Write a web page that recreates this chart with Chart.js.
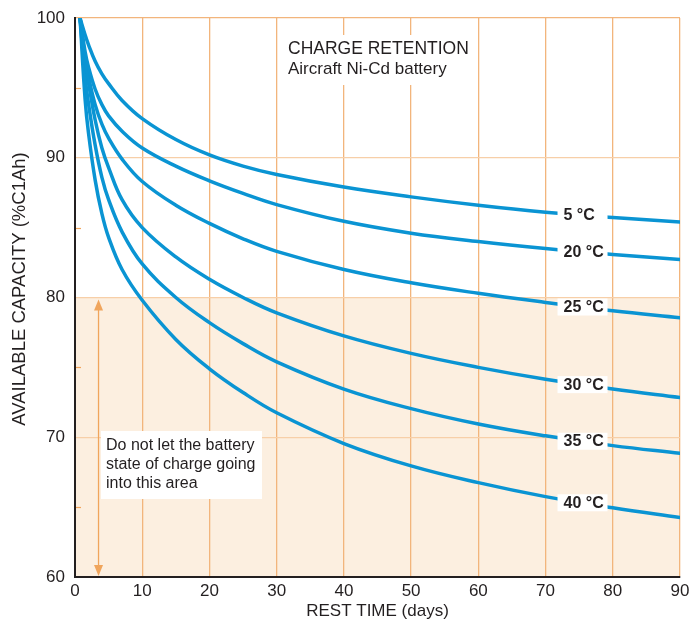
<!DOCTYPE html>
<html>
<head>
<meta charset="utf-8">
<style>
html,body{margin:0;padding:0;background:#fff;}
#wrap{width:691px;height:622px;position:relative;}
</style>
<script src="https://cdn.jsdelivr.net/npm/chart.js@4.4.1/dist/chart.umd.min.js"></script>
</head>
<body>
<div id="wrap"><canvas id="c" width="691" height="622"></canvas></div>
<script>
// ---- data ----
const days   = [0.75, 1.5, 2, 3, 4, 5, 7, 10, 15, 20, 25, 30, 40, 50, 60, 70, 80, 90];
const cap5   = [100, 98.8, 98.1, 96.9, 96.0, 95.3, 94.1, 92.8, 91.3, 90.2, 89.4, 88.8, 87.9, 87.2, 86.6, 86.1, 85.72, 85.4];
const cap20  = [100, 97.6, 96.5, 94.9, 93.8, 93.0, 91.9, 90.7, 89.4, 88.35, 87.45, 86.65, 85.45, 84.6, 84.0, 83.5, 83.08, 82.72];
const cap25  = [100, 97.1, 95.8, 93.8, 92.4, 91.4, 89.9, 88.3, 86.6, 85.3, 84.2, 83.3, 82.0, 81.05, 80.3, 79.65, 79.05, 78.55];
const cap30  = [100, 97.0, 95.4, 92.7, 90.7, 89.3, 87.0, 85.0, 82.9, 81.3, 80.0, 78.9, 77.25, 76.0, 75.0, 74.15, 73.45, 72.85];
const cap35  = [100, 95.8, 93.9, 90.9, 88.6, 87.0, 84.7, 82.4, 80.0, 78.2, 76.7, 75.4, 73.45, 72.05, 70.95, 70.1, 69.4, 68.85];
const cap40  = [100, 94.2, 91.8, 88.4, 86.0, 84.3, 82.0, 79.8, 77.0, 74.9, 73.2, 71.75, 69.55, 67.95, 66.75, 65.75, 64.95, 64.25];
const seriesLabels = ['5 °C', '20 °C', '25 °C', '30 °C', '35 °C', '40 °C'];
const seriesValues = [cap5, cap20, cap25, cap30, cap35, cap40];
const labelDay = 75.5;
const xTicks = [0, 10, 20, 30, 40, 50, 60, 70, 80, 90];
const yTicks = [60, 70, 80, 90, 100];
const yMinor = [65, 75, 85, 95];
const limitValue = 80;
const titleLines = ['CHARGE RETENTION', 'Aircraft Ni-Cd battery'];
const noteLines = ['Do not let the battery', 'state of charge going', 'into this area'];
const xTitle = 'REST TIME (days)';
const yTitle = 'AVAILABLE CAPACITY (%C1Ah)';

const FONT = "'Liberation Sans', Arial, Helvetica, sans-serif";
const TXT = '#231f20';
const BLUE = '#0a94d3';
const GRID_V = '#f2b57c';
const GRID_H = '#f7cfa8';
const SHADE = '#fcefe0';
const ARROW = '#f0a55c';

function interp(xs, ys, x) {
  for (let i = 0; i < xs.length - 1; i++) {
    if (x >= xs[i] && x <= xs[i + 1]) {
      const t = (x - xs[i]) / (xs[i + 1] - xs[i]);
      return ys[i] + t * (ys[i + 1] - ys[i]);
    }
  }
  return ys[ys.length - 1];
}

const datasets = seriesValues.map((vals, i) => ({
  label: seriesLabels[i],
  data: days.map((d, j) => ({x: d, y: vals[j]})),
  borderColor: BLUE,
  borderWidth: 3.5,
  pointRadius: 0,
  fill: false,
  tension: 0.4,
  borderCapStyle: 'round',
  borderJoinStyle: 'round'
}));

const decor = {
  id: 'decor',
  beforeDraw(chart) {
    const {ctx, scales: {x, y}} = chart;
    ctx.save();
    ctx.fillStyle = '#fff';
    ctx.fillRect(0, 0, chart.width, chart.height);
    ctx.fillStyle = SHADE;
    const l = x.getPixelForValue(0), r = x.getPixelForValue(90);
    const t = y.getPixelForValue(limitValue), b = y.getPixelForValue(60);
    ctx.fillRect(l, t, r - l, b - t);
    // y axis title
    ctx.fillStyle = TXT;
    ctx.font = '18.5px ' + FONT;
    ctx.textAlign = 'center';
    ctx.textBaseline = 'middle';
    ctx.translate(20, 289);
    ctx.rotate(-Math.PI / 2);
    ctx.fillText(yTitle, 0, 0);
    ctx.restore();
  },
  beforeDatasetsDraw(chart) {
    const {ctx, scales: {x, y}} = chart;
    ctx.save();
    // minor ticks on y axis
    ctx.strokeStyle = ARROW;
    ctx.lineWidth = 1.2;
    yMinor.forEach(v => {
      const py = Math.round(y.getPixelForValue(v)) + 0.5;
      ctx.beginPath();
      ctx.moveTo(x.getPixelForValue(0) + 1, py);
      ctx.lineTo(x.getPixelForValue(0) + 6, py);
      ctx.stroke();
    });
    // arrow
    const ax = x.getPixelForValue(3.5);
    const at = y.getPixelForValue(limitValue) + 2;
    const ab = y.getPixelForValue(60) - 1;
    ctx.strokeStyle = ARROW;
    ctx.fillStyle = ARROW;
    ctx.lineWidth = 1.3;
    ctx.beginPath();
    ctx.moveTo(ax, at + 8);
    ctx.lineTo(ax, ab - 8);
    ctx.stroke();
    ctx.beginPath();
    ctx.moveTo(ax, at); ctx.lineTo(ax - 4.5, at + 11); ctx.lineTo(ax + 4.5, at + 11); ctx.closePath(); ctx.fill();
    ctx.beginPath();
    ctx.moveTo(ax, ab); ctx.lineTo(ax - 4.5, ab - 11); ctx.lineTo(ax + 4.5, ab - 11); ctx.closePath(); ctx.fill();
    // note box
    ctx.fillStyle = '#fff';
    ctx.fillRect(101, 431, 161, 68);
    ctx.fillStyle = TXT;
    ctx.font = '16px ' + FONT;
    ctx.textBaseline = 'middle';
    ctx.textAlign = 'left';
    noteLines.forEach((s, i) => ctx.fillText(s, 106, 446 + i * 19));
    // title box
    ctx.fillStyle = '#fff';
    ctx.fillRect(283, 35, 190, 50);
    ctx.fillStyle = TXT;
    ctx.font = '17.5px ' + FONT;
    ctx.fillText(titleLines[0], 288, 49);
    ctx.font = '17px ' + FONT;
    ctx.fillText(titleLines[1], 288, 69);
    ctx.restore();
  },
  afterDatasetsDraw(chart) {
    const {ctx, scales: {x, y}} = chart;
    ctx.save();
    ctx.font = 'bold 16px ' + FONT;
    ctx.textBaseline = 'middle';
    ctx.textAlign = 'left';
    seriesValues.forEach((vals, i) => {
      const cx = x.getPixelForValue(labelDay);
      const cy = y.getPixelForValue(interp(days, vals, labelDay));
      ctx.fillStyle = '#fff';
      ctx.fillRect(cx - 25, cy - 8.5, 50, 17);
      ctx.fillStyle = TXT;
      ctx.fillText(seriesLabels[i], cx - 19, cy + 0.5);
    });
    ctx.restore();
  }
};

new Chart(document.getElementById('c'), {
  type: 'line',
  data: {datasets},
  options: {
    responsive: false,
    animation: false,
    devicePixelRatio: 1,
    layout: {padding: {top: 18, right: 11, left: 0, bottom: 0}},
    plugins: {legend: {display: false}, tooltip: {enabled: false}},
    scales: {
      x: {
        type: 'linear', min: 0, max: 90,
        afterBuildTicks: s => { s.ticks = xTicks.map(v => ({value: v})); },
        afterFit: s => { s.height = 45; s.paddingLeft = 0; s.paddingRight = 0; },
        ticks: {color: TXT, font: {family: FONT, size: 17}, padding: 4, maxRotation: 0},
        grid: {
          color: c => (c.tick && c.tick.value === 0) ? 'rgba(0,0,0,0)' : GRID_V,
          lineWidth: 1.3, drawTicks: false
        },
        border: {color: TXT, width: 2},
        title: {display: true, text: xTitle, color: TXT, font: {family: FONT, size: 17}, padding: {top: 0, bottom: 0}}
      },
      y: {
        type: 'linear', min: 60, max: 100,
        afterBuildTicks: s => { s.ticks = yTicks.map(v => ({value: v})); },
        afterFit: s => { s.width = 75; s.paddingTop = 0; s.paddingBottom = 0; },
        ticks: {color: TXT, font: {family: FONT, size: 17}, padding: 10},
        grid: {
          color: c => {
            const v = c.tick ? c.tick.value : null;
            if (v === 60) return 'rgba(0,0,0,0)';
            if (v === 100) return GRID_V;
            return GRID_H;
          },
          lineWidth: 1.3, drawTicks: false
        },
        border: {color: TXT, width: 2},
        title: {display: false}
      }
    }
  },
  plugins: [decor]
});
</script>
</body>
</html>
